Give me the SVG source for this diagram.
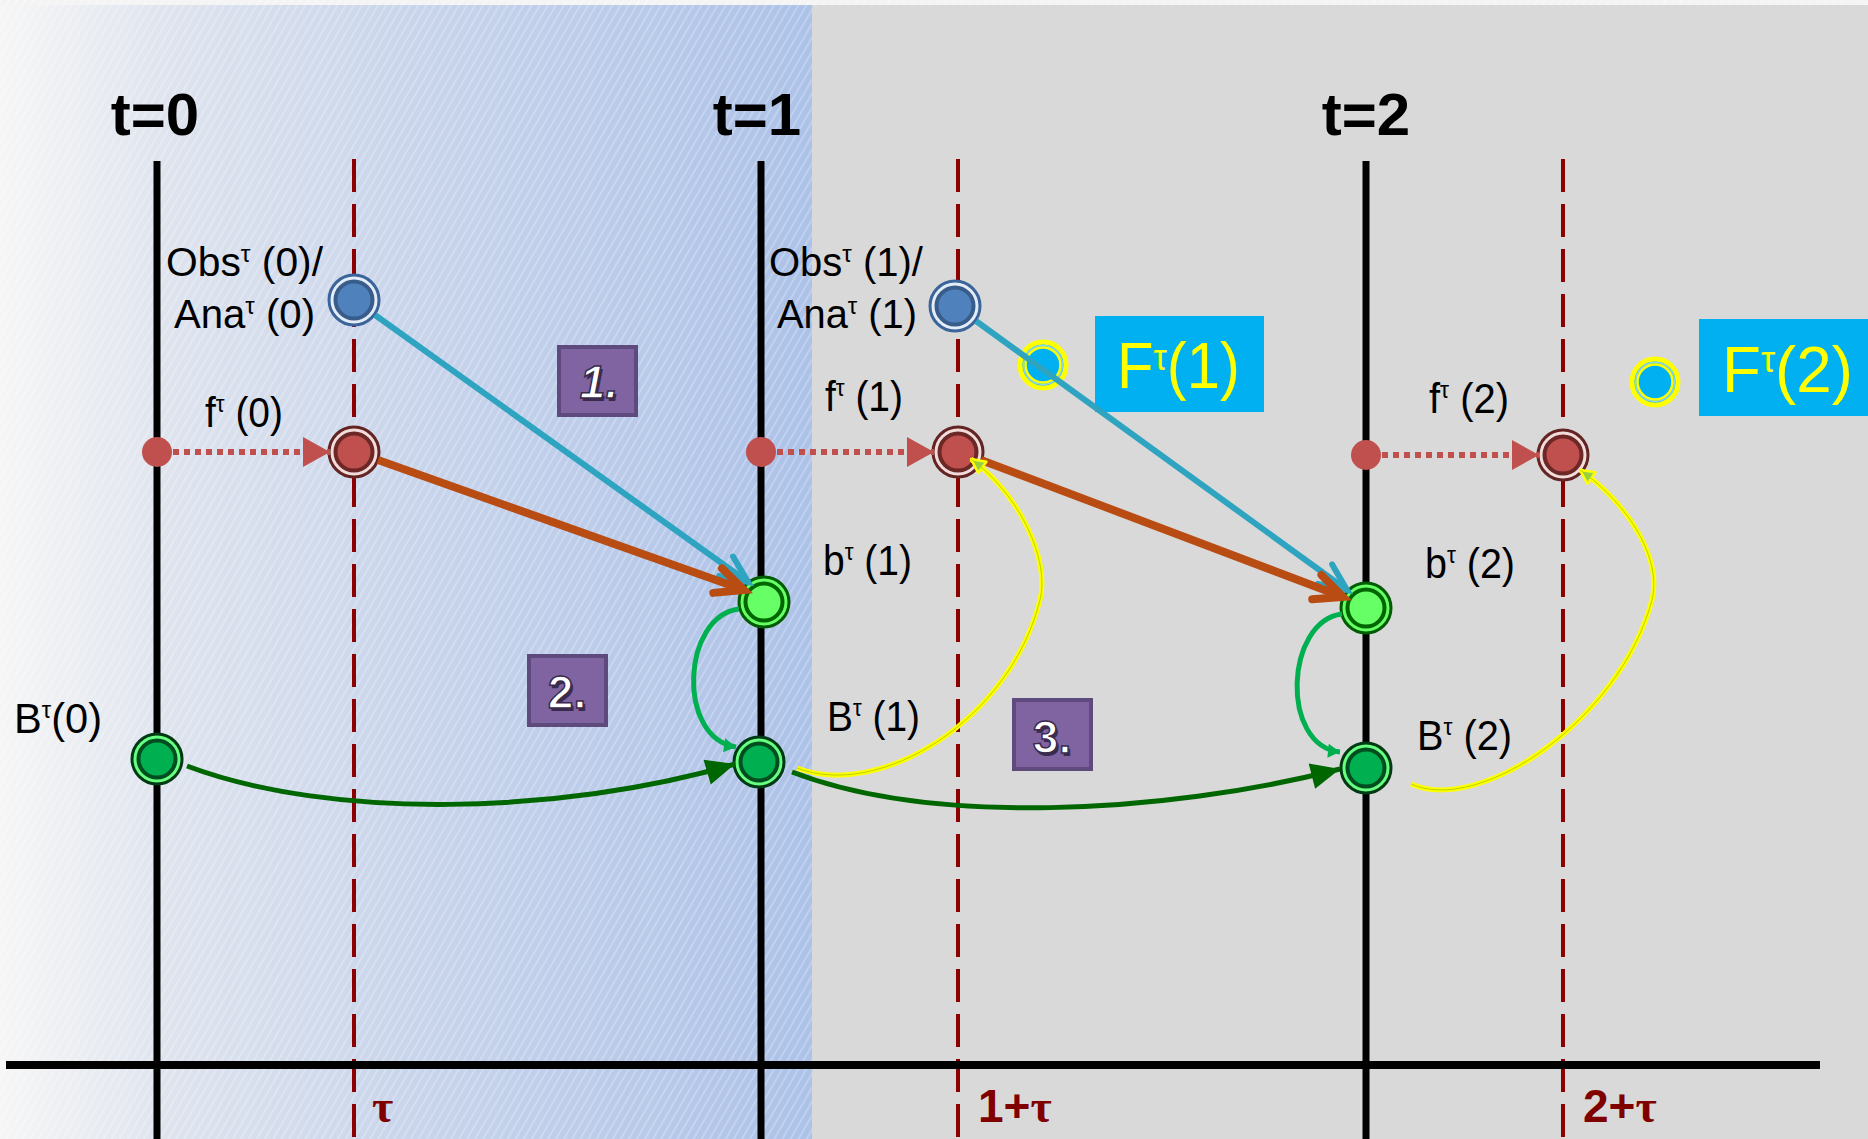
<svg xmlns="http://www.w3.org/2000/svg" width="1868" height="1139" viewBox="0 0 1868 1139">
<defs>
<style>
.lbl{font-family:"Liberation Sans",Arial,sans-serif;font-size:42px;fill:#000}
.lbs{font-size:40px}
.sup{font-size:24px}
.tl{font-family:"Liberation Sans",Arial,sans-serif;font-size:60px;font-weight:bold;fill:#000;text-anchor:middle}
.ax{font-family:"Liberation Sans",Arial,sans-serif;font-size:46px;font-weight:bold;fill:#800000}
.taus{font-family:"Liberation Serif","Times New Roman",serif}
.Fl{font-family:"Liberation Sans",Arial,sans-serif;font-size:64px;fill:#ffff00}
.num{font-family:"Liberation Sans",Arial,sans-serif;font-size:46px;font-weight:bold;text-anchor:middle}
.vline{stroke:#000;stroke-width:7}
.dline{stroke:#8b0000;stroke-width:4;stroke-dasharray:33 12}
.box{fill:#8064a2;stroke:#5f4a7d;stroke-width:4}
.ring{stroke-width:3}
.core{stroke-width:4}
.cyan{fill:none;stroke:#2ea4c1;stroke-width:6}
.orng{fill:none;stroke:#b84c12;stroke-width:8}
.dgrn{fill:none;stroke:#006600;stroke-width:5}
.lgrn{fill:none;stroke:#00b050;stroke-width:5}
.yel{fill:none;stroke:#ffff00;stroke-width:5}
.yelc{fill:none;stroke:#b8d400;stroke-width:1}
.dot{fill:none;stroke:#c0504d;stroke-width:6;stroke-dasharray:6 5}
</style>
<linearGradient id="bgL" x1="0" y1="0" x2="1" y2="0">
<stop offset="0" stop-color="#f6f6f6"/>
<stop offset="0.2" stop-color="#dfe4ee"/>
<stop offset="0.5" stop-color="#c9d5eb"/>
<stop offset="1" stop-color="#adc2e8"/>
</linearGradient>
<pattern id="hatch" width="7" height="7" patternUnits="userSpaceOnUse" patternTransform="rotate(30)">
<line x1="1" y1="0" x2="1" y2="7" stroke="#ffffff" stroke-width="1.5" opacity="0.3"/>
</pattern>
<marker id="mCyan" markerUnits="userSpaceOnUse" viewBox="-32 -18 36 36" refX="0" refY="0" markerWidth="36" markerHeight="36" orient="auto" overflow="visible">
<path d="M-27,-12 L0,0 L-27,12" fill="none" stroke="#2ea4c1" stroke-width="6" stroke-linecap="round"/>
</marker>
<marker id="mOrng" markerUnits="userSpaceOnUse" viewBox="-32 -18 36 36" refX="0" refY="0" markerWidth="36" markerHeight="36" orient="auto" overflow="visible">
<path d="M-28,-13 L0,0 L-28,13" fill="none" stroke="#b84c12" stroke-width="8" stroke-linecap="round"/>
</marker>
<marker id="mDg" markerUnits="userSpaceOnUse" viewBox="-30 -15 32 30" refX="0" refY="0" markerWidth="32" markerHeight="30" orient="auto" overflow="visible">
<path d="M-29,-13 L0,0 L-29,13 Z" fill="#006600"/>
</marker>
<marker id="mLg" markerUnits="userSpaceOnUse" viewBox="-14 -8 16 16" refX="0" refY="0" markerWidth="16" markerHeight="16" orient="auto" overflow="visible">
<path d="M-12,-7 L0,0 L-12,7 Z" fill="#00b050"/>
</marker>
<marker id="mYel" markerUnits="userSpaceOnUse" viewBox="-16 -9 18 18" refX="0" refY="0" markerWidth="18" markerHeight="18" orient="auto" overflow="visible">
<path d="M-14,-7 L0,0 L-14,7 Z" fill="#92d050" stroke="#ffff00" stroke-width="2.5" stroke-linejoin="round"/>
</marker>
<marker id="mRed" markerUnits="userSpaceOnUse" viewBox="-28 -16 30 32" refX="0" refY="0" markerWidth="30" markerHeight="32" orient="auto" overflow="visible">
<path d="M-27,-15 L0,0 L-27,15 Z" fill="#c0504d"/>
</marker>
</defs>

<g id="background">
<rect x="0" y="0" width="1868" height="1139" fill="#f4f4f4"/>
<rect x="0" y="5" width="812" height="1134" fill="url(#bgL)"/>
<rect x="0" y="0" width="812" height="1139" fill="url(#hatch)"/>
<rect x="812" y="0" width="1056" height="5" fill="url(#hatch)"/>
<rect x="812" y="5" width="1056" height="1134" fill="#d9d9d9"/>
</g>

<g id="axes">
<line class="vline" x1="157" y1="161" x2="157" y2="1139"/>
<line class="vline" x1="761" y1="161" x2="761" y2="1139"/>
<line class="vline" x1="1366" y1="161" x2="1366" y2="1139"/>
<line class="dline" x1="354" y1="159" x2="354" y2="1139"/>
<line class="dline" x1="958" y1="159" x2="958" y2="1139"/>
<line class="dline" x1="1563" y1="159" x2="1563" y2="1139"/>
<line x1="6" y1="1065" x2="1820" y2="1065" stroke="#000" stroke-width="8"/>
<text class="tl" x="155" y="135">t=0</text>
<text class="tl" x="757" y="135">t=1</text>
<text class="tl" x="1366" y="135">t=2</text>
<text class="ax taus" x="372" y="1122">τ</text>
<text class="ax" x="978" y="1122">1+<tspan class="taus">τ</tspan></text>
<text class="ax" x="1583" y="1122">2+<tspan class="taus">τ</tspan></text>
</g>

<g id="F1">
<rect x="1095" y="316" width="169" height="96" fill="#00b0f0"/>
<text class="Fl" x="1117" y="388" textLength="123" lengthAdjust="spacingAndGlyphs">F<tspan font-size="36" dy="-18">τ</tspan><tspan dy="18">(1)</tspan></text>
<circle cx="1043" cy="365" r="23" fill="#00b0f0" stroke="#ffff00" stroke-width="5"/>
<circle cx="1043" cy="365" r="19.5" fill="none" stroke="#8fd6f2" stroke-width="1.5"/>
<circle cx="1043" cy="365" r="17.5" fill="none" stroke="#ffff00" stroke-width="2.5"/>
</g>
<g id="F2">
<rect x="1699" y="319" width="169" height="97" fill="#00b0f0"/>
<text class="Fl" x="1722" y="392" textLength="131" lengthAdjust="spacingAndGlyphs">F<tspan font-size="36" dy="-20">τ</tspan><tspan dy="20">(2)</tspan></text>
<circle cx="1655" cy="382" r="23" fill="#00b0f0" stroke="#ffff00" stroke-width="5"/>
<circle cx="1655" cy="382" r="19.5" fill="none" stroke="#8fd6f2" stroke-width="1.5"/>
<circle cx="1655" cy="382" r="17.5" fill="none" stroke="#ffff00" stroke-width="2.5"/>
</g>

<g id="step1">
<rect class="box" x="559" y="347" width="77" height="68"/>
<text class="num" x="601" y="401" fill="#3a2b4d" font-style="italic">1.</text>
<text class="num" x="599" y="398" fill="#ffffff" stroke="#3a2b4d" stroke-width="1.5" font-style="italic">1.</text>
</g>
<g id="step2">
<rect class="box" x="529" y="656" width="77" height="69"/>
<text class="num" x="569" y="711" fill="#3a2b4d">2.</text>
<text class="num" x="567" y="708" fill="#ffffff" stroke="#3a2b4d" stroke-width="1.5">2.</text>
</g>
<g id="step3">
<rect class="box" x="1014" y="700" width="77" height="69"/>
<text class="num" x="1054" y="756" fill="#3a2b4d">3.</text>
<text class="num" x="1052" y="753" fill="#ffffff" stroke="#3a2b4d" stroke-width="1.5">3.</text>
</g>

<g id="nodes">
<g id="obs0"><circle class="ring" cx="354" cy="300" r="25" fill="#e4ecf7" stroke="#3b659a"/><circle class="core" cx="354" cy="300" r="18.5" fill="#4f81bd" stroke="#385d8a"/></g>
<g id="obs1"><circle class="ring" cx="955" cy="306" r="25" fill="#e4ecf7" stroke="#3b659a"/><circle class="core" cx="955" cy="306" r="18.5" fill="#4f81bd" stroke="#385d8a"/></g>
<g id="f0"><circle class="ring" cx="354" cy="452" r="25" fill="#f2dcdb" stroke="#632523"/><circle class="core" cx="354" cy="452" r="18.5" fill="#c0504d" stroke="#6b2826"/></g>
<g id="f1"><circle class="ring" cx="958" cy="452" r="25" fill="#f2dcdb" stroke="#632523"/><circle class="core" cx="958" cy="452" r="18.5" fill="#c0504d" stroke="#6b2826"/></g>
<g id="f2"><circle class="ring" cx="1563" cy="455" r="25" fill="#f2dcdb" stroke="#632523"/><circle class="core" cx="1563" cy="455" r="18.5" fill="#c0504d" stroke="#6b2826"/></g>
<g id="dot0"><circle cx="157" cy="452" r="15" fill="#c0504d"/></g>
<g id="dot1"><circle cx="761" cy="452" r="15" fill="#c0504d"/></g>
<g id="dot2"><circle cx="1366" cy="455" r="15" fill="#c0504d"/></g>
<g id="b1"><circle class="ring" cx="764" cy="602" r="25" fill="#66ff66" stroke="#005c00"/><circle class="core" cx="764" cy="602" r="18.5" fill="#66ff66" stroke="#006600"/></g>
<g id="b2"><circle class="ring" cx="1366" cy="608" r="25" fill="#66ff66" stroke="#005c00"/><circle class="core" cx="1366" cy="608" r="18.5" fill="#66ff66" stroke="#006600"/></g>
<g id="B0"><circle class="ring" cx="157" cy="759" r="25" fill="#66ff80" stroke="#003a14"/><circle class="core" cx="157" cy="759" r="18.5" fill="#00b050" stroke="#004d1f"/></g>
<g id="B1"><circle class="ring" cx="759" cy="762" r="25" fill="#66ff80" stroke="#003a14"/><circle class="core" cx="759" cy="762" r="18.5" fill="#00b050" stroke="#004d1f"/></g>
<g id="B2"><circle class="ring" cx="1366" cy="768" r="25" fill="#66ff80" stroke="#003a14"/><circle class="core" cx="1366" cy="768" r="18.5" fill="#00b050" stroke="#004d1f"/></g>
</g>

<g id="connectors">
<path class="dot" d="M173,452 L330,452" marker-end="url(#mRed)"/>
<path class="dot" d="M777,452 L934,452" marker-end="url(#mRed)"/>
<path class="dot" d="M1382,455 L1539,455" marker-end="url(#mRed)"/>
<path class="cyan" d="M375,315 L748,582" marker-end="url(#mCyan)"/>
<path class="orng" d="M378,460 L744,590" marker-end="url(#mOrng)"/>
<path class="cyan" d="M976,321 L1347,590" marker-end="url(#mCyan)"/>
<path class="orng" d="M981,460 L1343,597" marker-end="url(#mOrng)"/>
<path class="lgrn" d="M739,609 C682,616 676,738 736,747" marker-end="url(#mLg)"/>
<path class="lgrn" d="M1342,614 C1285,621 1280,746 1340,752" marker-end="url(#mLg)"/>
<path class="dgrn" d="M187,766 C330,820 560,815 735,764" marker-end="url(#mDg)"/>
<path class="dgrn" d="M792,772 C930,825 1160,815 1340,769" marker-end="url(#mDg)"/>
<path class="yel" d="M797,768 C880,800 1010,720 1040,600 C1050,560 1020,495 971,459" marker-end="url(#mYel)"/>
<path class="yelc" d="M797,768 C880,800 1010,720 1040,600 C1050,560 1020,495 971,459"/>
<path class="yel" d="M1411,784 C1480,815 1620,720 1652,600 C1662,560 1630,505 1580,470" marker-end="url(#mYel)"/>
<path class="yelc" d="M1411,784 C1480,815 1620,720 1652,600 C1662,560 1630,505 1580,470"/>
</g>

<g id="labels">
<text class="lbl lbs" x="166" y="276" textLength="157" lengthAdjust="spacingAndGlyphs">Obs<tspan class="sup" dy="-14">τ</tspan><tspan dy="14"> (0)/</tspan></text>
<text class="lbl lbs" x="174" y="328" textLength="141" lengthAdjust="spacingAndGlyphs">Ana<tspan class="sup" dy="-14">τ</tspan><tspan dy="14"> (0)</tspan></text>
<text class="lbl" x="205" y="427" textLength="78" lengthAdjust="spacingAndGlyphs">f<tspan class="sup" dy="-15">τ</tspan><tspan dy="15"> (0)</tspan></text>
<text class="lbl lbs" x="769" y="276" textLength="154" lengthAdjust="spacingAndGlyphs">Obs<tspan class="sup" dy="-14">τ</tspan><tspan dy="14"> (1)/</tspan></text>
<text class="lbl lbs" x="777" y="328" textLength="140" lengthAdjust="spacingAndGlyphs">Ana<tspan class="sup" dy="-14">τ</tspan><tspan dy="14"> (1)</tspan></text>
<text class="lbl" x="825" y="411" textLength="78" lengthAdjust="spacingAndGlyphs">f<tspan class="sup" dy="-15">τ</tspan><tspan dy="15"> (1)</tspan></text>
<text class="lbl" x="823" y="575" textLength="89" lengthAdjust="spacingAndGlyphs">b<tspan class="sup" dy="-15">τ</tspan><tspan dy="15"> (1)</tspan></text>
<text class="lbl" x="827" y="731" textLength="93" lengthAdjust="spacingAndGlyphs">B<tspan class="sup" dy="-15">τ</tspan><tspan dy="15"> (1)</tspan></text>
<text class="lbl" x="1429" y="413" textLength="80" lengthAdjust="spacingAndGlyphs">f<tspan class="sup" dy="-15">τ</tspan><tspan dy="15"> (2)</tspan></text>
<text class="lbl" x="1425" y="578" textLength="90" lengthAdjust="spacingAndGlyphs">b<tspan class="sup" dy="-15">τ</tspan><tspan dy="15"> (2)</tspan></text>
<text class="lbl" x="1417" y="750" textLength="95" lengthAdjust="spacingAndGlyphs">B<tspan class="sup" dy="-15">τ</tspan><tspan dy="15"> (2)</tspan></text>
<text class="lbl" x="14" y="733" textLength="88" lengthAdjust="spacingAndGlyphs">B<tspan class="sup" dy="-15">τ</tspan><tspan dy="15">(0)</tspan></text>
</g>
</svg>
